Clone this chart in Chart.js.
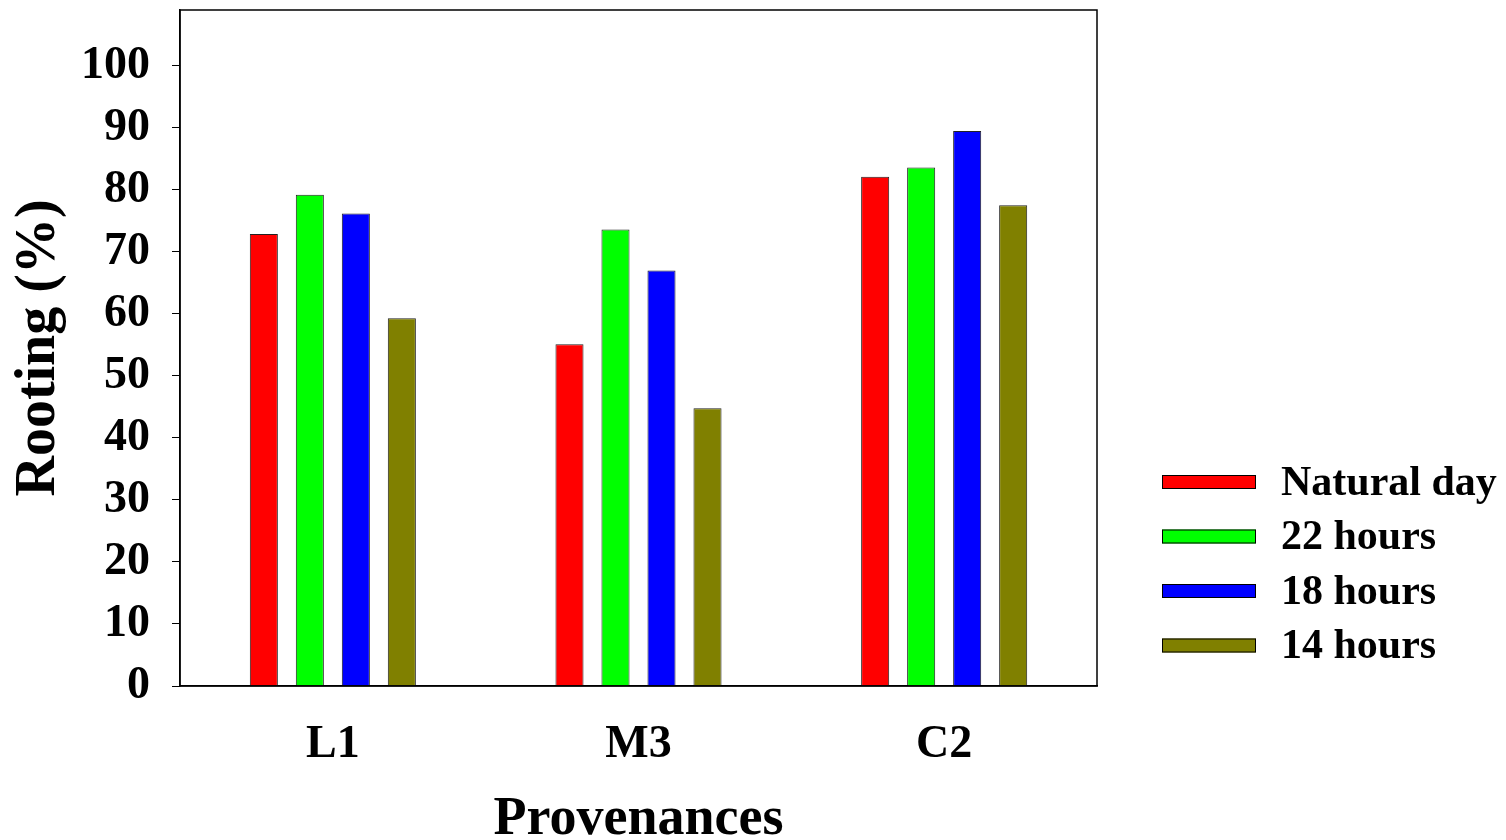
<!DOCTYPE html>
<html>
<head>
<meta charset="utf-8">
<script src="https://cdn.jsdelivr.net/npm/chart.js@4.4.0/dist/chart.umd.min.js"></script>
<style>
  html, body { margin: 0; padding: 0; background: #fff; }
  #wrap { width: 1506px; height: 840px; }
</style>
</head>
<body>
<div id="wrap"><canvas id="myChart"></canvas></div>
<script>
const provenances = ['L1', 'M3', 'C2'];
const seriesNames = ['Natural day', '22 hours', '18 hours', '14 hours'];
const naturalDay = [72.9, 55.1, 82.1];
const hours22 = [79.2, 73.6, 83.6];
const hours18 = [76.2, 67.0, 89.5];
const hours14 = [59.3, 44.8, 77.5];
const yTicks = [0, 10, 20, 30, 40, 50, 60, 70, 80, 90, 100];

const colors = ['#ff0000', '#00ff00', '#0000ff', '#808000'];
const serif = "'Liberation Serif', 'Times New Roman', serif";

// box around the plot area
const frame = {
    id: 'frame',
    afterDatasetsDraw(chart) {
        const a = chart.chartArea;
        const ctx = chart.ctx;
        ctx.save();
        ctx.strokeStyle = '#000';
        ctx.lineWidth = 1.5;
        ctx.strokeRect(a.left, a.top, a.right - a.left, a.bottom - a.top);
        ctx.restore();
    }
};

// legend drawn to the right, at the lower half
const sideLegend = {
    id: 'sideLegend',
    afterDraw(chart) {
        const ctx = chart.ctx;
        ctx.save();
        ctx.font = 'bold 42px ' + serif;
        ctx.textBaseline = 'middle';
        chart.data.datasets.forEach(function (ds, i) {
            const y = 482 + i * 54.5;
            ctx.fillStyle = ds.backgroundColor;
            ctx.fillRect(1162, y - 7, 94, 14);
            ctx.strokeStyle = '#000';
            ctx.lineWidth = 1;
            ctx.strokeRect(1162.5, y - 6.5, 93, 13);
            ctx.fillStyle = '#000';
            ctx.fillText(ds.label, 1281, y + 2);
        });
        ctx.restore();
    }
};

const values = [naturalDay, hours22, hours18, hours14];

new Chart(document.getElementById('myChart'), {
    type: 'bar',
    data: {
        labels: provenances,
        datasets: seriesNames.map(function (name, i) {
            return {
                label: name,
                data: values[i],
                backgroundColor: colors[i],
                borderColor: '#222',
                borderWidth: 1,
                categoryPercentage: 0.602,
                barPercentage: 0.61
            };
        })
    },
    options: {
        responsive: true,
        maintainAspectRatio: false,
        animation: false,
        layout: { padding: { top: 10, right: 409, left: 0, bottom: 0 } },
        plugins: {
            legend: { display: false },
            tooltip: { enabled: false }
        },
        scales: {
            x: {
                grid: { display: false },
                border: { display: true, color: '#000', width: 1.5 },
                ticks: {
                    color: '#000',
                    padding: 24,
                    font: { family: serif, size: 46, weight: 'bold' }
                },
                title: {
                    display: true,
                    text: 'Provenances',
                    color: '#000',
                    padding: { top: 0, bottom: -12 },
                    font: { family: serif, size: 54, weight: 'bold' }
                },
                afterFit(scale) {
                    scale.height = 154;
                    scale.paddingLeft = 0;
                    scale.paddingRight = 0;
                }
            },
            y: {
                min: 0,
                max: 109,
                grid: {
                    drawOnChartArea: false,
                    drawTicks: true,
                    tickLength: 8,
                    color: '#000'
                },
                border: { display: true, color: '#000', width: 1.5 },
                afterBuildTicks(scale) {
                    scale.ticks = yTicks.map(function (v) { return { value: v }; });
                },
                ticks: {
                    color: '#000',
                    padding: 22,
                    font: { family: serif, size: 46, weight: 'bold' }
                },
                title: {
                    display: true,
                    text: 'Rooting (%)',
                    color: '#000',
                    padding: { top: 6, bottom: 0 },
                    font: { family: serif, size: 56, weight: 'bold' }
                },
                afterFit(scale) {
                    scale.width = 180;
                    scale.paddingTop = 0;
                    scale.paddingBottom = 0;
                }
            }
        }
    },
    plugins: [frame, sideLegend]
});
</script>
</body>
</html>
